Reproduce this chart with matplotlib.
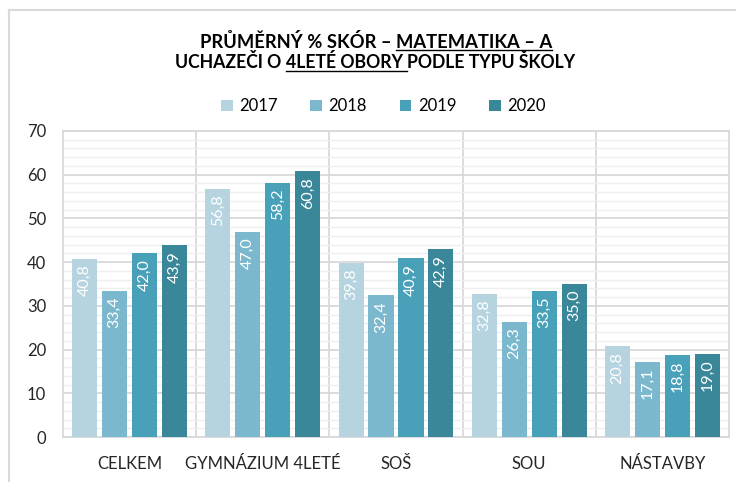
import matplotlib
matplotlib.use("Agg")
import matplotlib.pyplot as plt
from matplotlib.lines import Line2D
import numpy as np

categories = ["CELKEM", "GYMNÁZIUM 4LETÉ", "SOŠ", "SOU", "NÁSTAVBY"]
years = ["2017", "2018", "2019", "2020"]
values = {
    "2017": [40.8, 56.8, 39.8, 32.8, 20.8],
    "2018": [33.4, 47.0, 32.4, 26.3, 17.1],
    "2019": [42.0, 58.2, 40.9, 33.5, 18.8],
    "2020": [43.9, 60.8, 42.9, 35.0, 19.0],
}
colors = ["#B5D4DF", "#7BB8CE", "#48A1B8", "#3A8799"]
title_line1 = [("PRŮMĚRNÝ % SKÓR – ", False), ("MATEMATIKA – A", True)]
title_line2 = [("UCHAZEČI O ", False), ("4LETÉ OBORY ", True), ("PODLE TYPU ŠKOLY", False)]

FONT = ["Lato", "DejaVu Sans"]
plt.rcParams["font.family"] = FONT

W, H = 736, 482
fig = plt.figure(figsize=(W / 100, H / 100), dpi=100)
fig.patch.set_facecolor("white")

def fx(px):
    return px / W

def fy(py):
    return 1 - py / H

ax = fig.add_axes([fx(63), fy(437), fx(729) - fx(63), fy(131) - fy(437)])

x = np.arange(len(categories))
bw = 0.188
step = 0.225
for i, yr in enumerate(years):
    pos = x + (i - 1.5) * step
    ax.bar(pos, values[yr], width=bw, color=colors[i], zorder=3, label=yr)
    for xp, v in zip(pos, values[yr]):
        ax.text(xp, v - 1.3, f"{v:.1f}".replace(".", ","), rotation=90,
                ha="center", va="top", color="white", fontsize=11.5, zorder=4)

ax.set_xlim(-0.5, len(categories) - 0.5)
ax.set_ylim(0, 70)
ax.set_yticks(np.arange(0, 71, 10))
ax.set_yticks(np.arange(0, 71, 2), minor=True)
ax.grid(axis="y", which="minor", color="#EFEFEF", lw=1.0, zorder=0)
ax.grid(axis="y", which="major", color="#D9D9D9", lw=1.3, zorder=1)
for b in np.arange(0.5, len(categories) - 0.5, 1):
    ax.axvline(b, color="#D9D9D9", lw=1.3, zorder=1)
for s in ax.spines.values():
    s.set_color("#D9D9D9")
    s.set_linewidth(1.3)
ax.set_xticks(x)
ax.set_xticklabels(categories)
ax.tick_params(axis="both", which="both", length=0, labelsize=12, colors="#262626")
ax.tick_params(axis="x", pad=14)
ax.tick_params(axis="y", pad=12)

# chart-area border
fig.add_artist(Line2D([fx(9), fx(9)], [fy(10), fy(H)], color="#D9D9D9", lw=1.5))
fig.add_artist(Line2D([fx(9), fx(W)], [fy(10), fy(10)], color="#D9D9D9", lw=1.5))

# title with underlines
renderer = fig.canvas.get_renderer()

def width_of(s, size):
    t = fig.text(0, 0, s + "I", fontsize=size, fontweight="bold")
    t2 = fig.text(0, 0, "I", fontsize=size, fontweight="bold")
    w = t.get_window_extent(renderer).width - t2.get_window_extent(renderer).width
    t.remove(); t2.remove()
    return w

def draw_line(pieces, cx, baseline, ul_off, size):
    full = "".join(p for p, _ in pieces)
    total = width_of(full, size)
    x0 = cx - total / 2
    prefix = ""
    for p, ul in pieces:
        start = x0 + (width_of(prefix, size) if prefix else 0)
        fig.text(fx(start), fy(baseline), p, fontsize=size, fontweight="bold",
                 ha="left", va="baseline", color="black")
        if ul:
            wp = width_of(p, size)
            fig.add_artist(Line2D([fx(start), fx(start + wp)],
                                  [fy(baseline + ul_off), fy(baseline + ul_off)],
                                  color="black", lw=1.0))
        prefix += p

draw_line(title_line1, 376, 47.5, 2.5, 13.2)
draw_line(title_line2, 375, 67.5, 3, 12.7)

ax.legend(loc="lower center", bbox_to_anchor=(0.481, 1.0), ncol=4, frameon=False,
          fontsize=12, handlelength=0.7, handleheight=0.7, handletextpad=0.4,
          columnspacing=1.95, borderaxespad=0.6)

fig.savefig("out.png", dpi=100)
